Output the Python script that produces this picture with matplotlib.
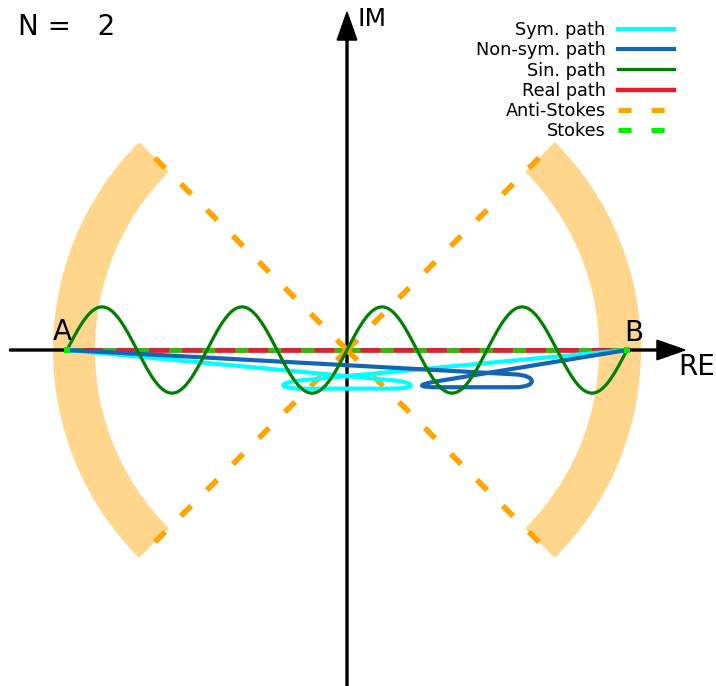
import numpy as np
import matplotlib
matplotlib.use("Agg")
import matplotlib.pyplot as plt
from matplotlib.path import Path
from matplotlib.patches import PathPatch, Wedge
from matplotlib.lines import Line2D

# ---------------- data ----------------
N_VALUE = 2
ENDPOINT_LABELS = ["A", "B"]
ENDPOINTS_X = [-1.0, 1.0]
ENDPOINTS_Y = [0.0, 0.0]
AXIS_LABELS = ["RE", "IM"]
LEGEND_LABELS = ["Sym. path", "Non-sym. path", "Sin. path", "Real path",
                 "Anti-Stokes", "Stokes"]

# sinusoidal path between A and B
SIN_AMPLITUDE = 0.154
SIN_PERIODS = 4

# symmetric path (Bezier control points)
SYM_X = [-1.0, 0.16, 0.25, 0.25, 0.16, -0.16, -0.25, -0.25, -0.16, 1.0]
SYM_Y = [0.0, -0.108, -0.116, -0.138, -0.138, -0.138, -0.138, -0.116, -0.108, 0.0]

# non-symmetric path (Bezier control points)
NONSYM_X = [-1.0, 0.60, 0.68, 0.68, 0.60, 0.33, 0.24, 0.26, 0.32, 1.0]
NONSYM_Y = [0.0, -0.087, -0.091, -0.133, -0.133, -0.133, -0.133, -0.122, -0.112, 0.0]

PATH_CODES = [Path.MOVETO, Path.LINETO, Path.CURVE4, Path.CURVE4, Path.CURVE4,
              Path.LINETO, Path.CURVE4, Path.CURVE4, Path.CURVE4, Path.LINETO]

ANTI_STOKES_ANGLES = [45, 135, 225, 315]
ANTI_STOKES_LENGTH = 1.0
STOKES_ANGLES = [0, 180]
STOKES_LENGTH = 1.0
SECTOR_CENTERS = [0, 180]
SECTOR_HALF_WIDTH = 45
SECTOR_R_INNER = 0.90
SECTOR_R_OUTER = 1.05

# ---------------- styles ----------------
C_SYM = "#00ffff"
C_NONSYM = "#1565b5"
C_SIN = "#008000"
C_REAL = "#e0202e"
C_ANTI = "#ffa500"
C_STOKES = "#00ee00"

LW_DASH = 3.6
DASH = (0, (9.4 / LW_DASH, 14.4 / LW_DASH))

fig = plt.figure(figsize=(7.16, 6.86), dpi=100)
ax = fig.add_axes([0, 0, 1, 1])
ax.set_xlim(-347 / 280, 369 / 280)
ax.set_ylim(-336 / 280, 350 / 280)
ax.set_aspect("equal")
ax.axis("off")

# sectors
for c in SECTOR_CENTERS:
    ax.add_patch(Wedge((0, 0), SECTOR_R_OUTER, c - SECTOR_HALF_WIDTH,
                       c + SECTOR_HALF_WIDTH,
                       width=SECTOR_R_OUTER - SECTOR_R_INNER,
                       facecolor=C_ANTI, alpha=0.45, edgecolor="none", zorder=1))

# axes arrows
ax.arrow(-1.205, 0, 1.205 + 1.207, 0, width=0.007, head_width=0.07,
         head_length=0.1, length_includes_head=True, color="black", zorder=2)
ax.arrow(0, -1.21, 0, 1.21 + 1.207, width=0.007, head_width=0.07,
         head_length=0.1, length_includes_head=True, color="black", zorder=2)

# real path
ax.plot(ENDPOINTS_X, ENDPOINTS_Y, color=C_REAL, lw=3.4, zorder=3)

# Stokes lines (on top of the real path)
for a in STOKES_ANGLES:
    t = np.deg2rad(a)
    ax.plot([0, STOKES_LENGTH * np.cos(t)], [0, STOKES_LENGTH * np.sin(t)],
            color=C_STOKES, lw=LW_DASH, linestyle=DASH, zorder=4,
            dash_capstyle="butt", alpha=0.7)

# anti-Stokes lines
for a in ANTI_STOKES_ANGLES:
    t = np.deg2rad(a)
    ax.plot([0, ANTI_STOKES_LENGTH * np.cos(t)], [0, ANTI_STOKES_LENGTH * np.sin(t)],
            color=C_ANTI, lw=LW_DASH + 0.4, linestyle=DASH, zorder=5,
            dash_capstyle="butt")

# symmetric and non-symmetric paths
ax.add_patch(PathPatch(Path(np.column_stack([SYM_X, SYM_Y]), PATH_CODES),
                       fill=False, edgecolor=C_SYM, lw=3.0, zorder=6))
ax.add_patch(PathPatch(Path(np.column_stack([NONSYM_X, NONSYM_Y]), PATH_CODES),
                       fill=False, edgecolor=C_NONSYM, lw=3.0, zorder=7))

# sinusoidal path
xs = np.linspace(ENDPOINTS_X[0], ENDPOINTS_X[1], 800)
ys = SIN_AMPLITUDE * np.sin(np.pi * SIN_PERIODS * (xs - ENDPOINTS_X[0]))
ax.plot(xs, ys, color=C_SIN, lw=2.3, zorder=8)

# endpoint markers
ax.plot(ENDPOINTS_X, ENDPOINTS_Y, "s", color=C_STOKES, ms=5, zorder=9, mew=0)

# labels
ax.text(-1.018, 0.064, ENDPOINT_LABELS[0], fontsize=20, ha="center", va="center", zorder=10)
ax.text(1.025, 0.061, ENDPOINT_LABELS[1], fontsize=20, ha="center", va="center", zorder=10)
ax.text(1.182, -0.061, AXIS_LABELS[0], fontsize=20, ha="left", va="center", zorder=10)
ax.text(0.039, 1.182, AXIS_LABELS[1], fontsize=18, ha="left", va="center", zorder=10)
fig.text(18 / 716, 1 - 27 / 686, "N =   %d" % N_VALUE, fontsize=20, ha="left", va="center")

# legend
handles = [
    Line2D([], [], color=C_SYM, lw=3.0),
    Line2D([], [], color=C_NONSYM, lw=3.0),
    Line2D([], [], color=C_SIN, lw=2.3),
    Line2D([], [], color=C_REAL, lw=3.2),
    Line2D([], [], color=C_ANTI, lw=LW_DASH, linestyle=DASH),
    Line2D([], [], color=C_STOKES, lw=LW_DASH, linestyle=DASH),
]
fig.legend(handles, LEGEND_LABELS, loc="upper right",
           bbox_to_anchor=(674 / 716, 1 - 21 / 686), frameon=False,
           markerfirst=False, fontsize=12.7, handlelength=3.2,
           handletextpad=0.68, labelspacing=0.13, borderpad=0,
           borderaxespad=0)

fig.savefig("out.png", dpi=100)
